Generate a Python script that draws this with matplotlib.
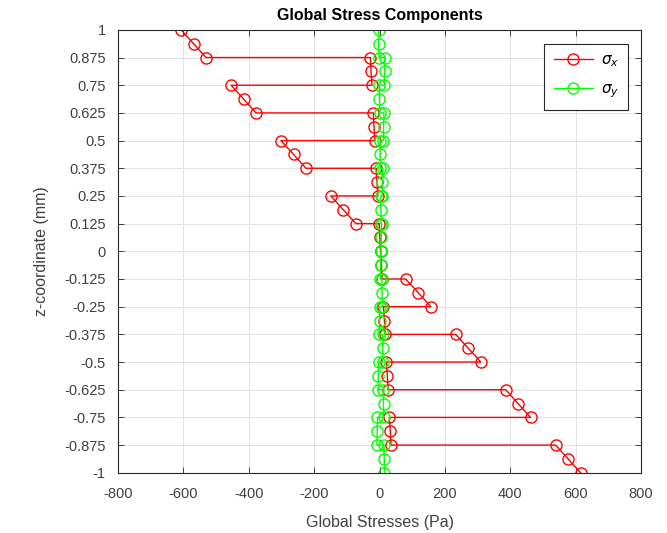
import matplotlib
matplotlib.use("Agg")
import matplotlib.pyplot as plt

plt.rcParams.update({
    "font.family": ["Liberation Sans", "DejaVu Sans"],
    "axes.unicode_minus": False,
    "xtick.direction": "in",
    "ytick.direction": "in",
    "xtick.top": True,
    "ytick.right": True,
    "axes.edgecolor": "#262626",
    "xtick.color": "#262626",
    "ytick.color": "#262626",
    "xtick.labelcolor": "#404040",
    "ytick.labelcolor": "#404040",
    "axes.labelcolor": "#404040",
})

# z position of each point: top, middle, bottom of each of the 16 plies
z_pts = [1, 0.9375, 0.875, 0.875, 0.8125, 0.75,
         0.75, 0.6875, 0.625, 0.625, 0.5625, 0.5,
         0.5, 0.4375, 0.375, 0.375, 0.3125, 0.25,
         0.25, 0.1875, 0.125, 0.125, 0.0625, 0,
         0, -0.0625, -0.125, -0.125, -0.1875, -0.25,
         -0.25, -0.3125, -0.375, -0.375, -0.4375, -0.5,
         -0.5, -0.5625, -0.625, -0.625, -0.6875, -0.75,
         -0.75, -0.8125, -0.875, -0.875, -0.9375, -1]

sigma_x = [-607, -569, -531, -28, -26, -23,
           -454, -416, -378, -19, -17, -14,
           -302, -263, -225, -10, -8, -5,
           -149, -111, -72, -1, 1, 3,
           3, 6, 8, 80, 119, 157,
           12, 15, 17, 233, 271, 310,
           21, 24, 26, 386, 424, 462,
           30, 33, 35, 539, 577, 615]

sigma_y = [-3, -2.4, -1.9, 17, 16, 15,
           -0.8, -0.2, 0.4, 13.4, 12.5, 11.7,
           1.5, 2, 2.6, 9.9, 9, 8,
           3.8, 4.3, 4.9, 6.3, 5.4, 4.5,
           4.5, 3.6, 2.7, 7, 7.7, 8.2,
           0.9, 0, -0.9, 9.4, 9.9, 10.5,
           -2.7, -3.5, -4.4, 11.6, 12.2, 12.8,
           -6.2, -7.1, -8, 13.9, 14.4, 15]

y_ticks = [1, 0.875, 0.75, 0.625, 0.5, 0.375, 0.25, 0.125, 0,
           -0.125, -0.25, -0.375, -0.5, -0.625, -0.75, -0.875, -1]
x_ticks = [-800, -600, -400, -200, 0, 200, 400, 600, 800]

fig = plt.figure(figsize=(6.67, 5.33), dpi=100)
ax = fig.add_axes([0.177, 0.113, 0.784, 0.831])

ax.plot(sigma_x, z_pts, "-o", color="#ff0000", mfc="none", ms=8,
        mew=1.0, lw=1.0, label=r"$\sigma_x$")
ax.plot(sigma_y, z_pts, "-o", color="#00ff00", mfc="none", ms=8,
        mew=1.0, lw=1.0, label=r"$\sigma_y$")

ax.set_xlim(-800, 800)
ax.set_ylim(-1, 1)
ax.set_xticks(x_ticks)
ax.set_xticklabels([str(v) for v in x_ticks])
ax.set_yticks(y_ticks)
ax.set_yticklabels([("%g" % v) for v in y_ticks])
ax.tick_params(labelsize=10.5, length=4, width=0.6)
ax.tick_params(axis="y", pad=9)
ax.tick_params(axis="x", pad=10)
ax.grid(True, color="#e3e3e3", lw=0.7)
ax.set_axisbelow(True)
for s in ax.spines.values():
    s.set_linewidth(0.8)

ax.set_xlabel("Global Stresses (Pa)", fontsize=11.5, labelpad=10)
ax.set_ylabel("z-coordinate (mm)", fontsize=11.5, labelpad=11)
ax.set_title("Global Stress Components", fontsize=11.5, fontweight="bold", pad=7)

leg = ax.legend(loc="upper right", bbox_to_anchor=(0.99, 0.985), fontsize=11,
                fancybox=False, edgecolor="#262626", framealpha=1,
                handlelength=2.6, borderpad=0.6, labelspacing=0.9,
                handletextpad=0.5)
leg.get_frame().set_linewidth(0.8)

fig.savefig("out.png", dpi=100)
